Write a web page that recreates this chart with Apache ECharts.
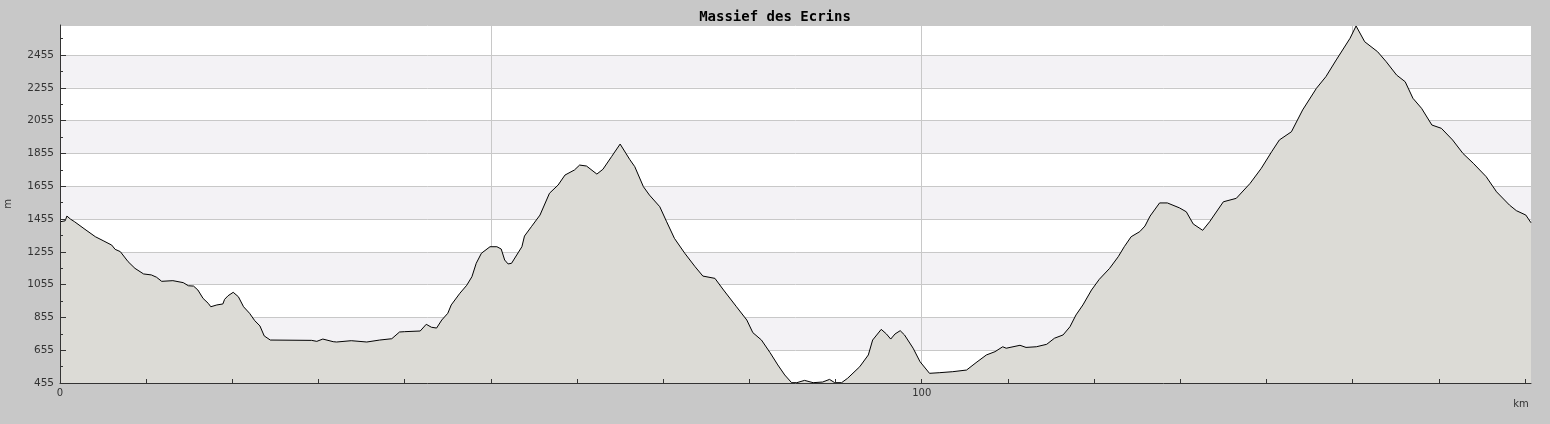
<!DOCTYPE html>
<html>
<head>
<meta charset="utf-8">
<title>Massief des Ecrins</title>
<script src="https://cdn.jsdelivr.net/npm/echarts@6/dist/echarts.min.js"></script>
<style>
  html, body { margin: 0; padding: 0; background: #c8c8c8; }
  #chart { width: 1550px; height: 424px; }
</style>
</head>
<body>
<div id="chart"></div>
<script>
// profiel: afstand (km) en hoogte (m)
var distanceKm = [
  0, 0.6, 0.8, 1.2, 1.7, 2.9, 4.1, 5.0, 6.0, 6.4, 7.0, 7.9, 8.7, 9.7, 10.6, 11.2, 11.8, 13.1, 14.3, 14.9,
  15.5, 16.0, 16.6, 17.2, 17.5, 18.2, 18.9, 19.1, 19.5, 20.1, 20.7, 21.3, 22.0, 22.6, 23.2, 23.7, 24.4, 29.2, 29.8, 30.5,
  31.7, 32.1, 33.8, 35.6, 37.1, 38.5, 39.4, 40.0, 41.8, 42.5, 43.1, 43.7, 44.3, 45.0, 45.4, 46.4, 47.2, 47.8, 48.3, 48.9,
  49.9, 50.7, 51.2, 51.6, 52.0, 52.4, 53.6, 53.9, 54.7, 55.7, 56.8, 57.8, 58.6, 58.8, 59.7, 60.3, 61.1, 62.3, 63.0, 64.0,
  65.0, 66.1, 66.7, 67.7, 68.4, 69.6, 70.4, 71.3, 72.5, 73.7, 74.6, 76.0, 77.0, 78.5, 79.7, 80.4, 81.4, 82.4, 83.3, 84.1,
  84.9, 85.5, 86.4, 87.4, 88.5, 89.3, 89.9, 90.7, 91.4, 92.8, 93.8, 94.3, 95.3, 95.9, 96.4, 96.9, 97.5, 98.0, 99.0, 99.8,
  100.9, 102.1, 103.6, 105.2, 106.3, 107.5, 108.5, 109.4, 109.8, 111.4, 112.1, 113.3, 114.5, 115.4, 116.4, 117.2, 117.9, 118.7, 119.7, 120.6,
  121.8, 122.8, 123.5, 124.3, 125.3, 125.9, 126.5, 127.6, 128.5, 129.9, 130.7, 131.5, 132.6, 133.4, 135.0, 136.5, 138.1, 139.4, 140.6, 141.5,
  142.9, 144.2, 145.8, 146.9, 148.1, 149.7, 150.4, 151.4, 152.9, 153.9, 155.1, 156.1, 157.0, 158.0, 159.2, 160.3, 161.6, 162.8, 164.0, 165.5,
  166.7, 168.2, 169.0, 170.1, 170.7
];
var elevationM = [
  1438, 1444, 1473, 1455, 1438, 1392, 1347, 1323, 1296, 1270, 1256, 1195, 1154, 1120, 1114, 1100, 1075, 1079, 1067, 1048,
  1046, 1022, 971, 941, 920, 931, 937, 965, 987, 1008, 981, 920, 880, 835, 803, 742, 717, 715, 709, 723,
  707, 705, 713, 705, 717, 725, 766, 768, 772, 813, 795, 790, 839, 880, 931, 1002, 1051, 1103, 1185, 1246,
  1286, 1286, 1272, 1205, 1181, 1185, 1286, 1351, 1408, 1479, 1612, 1662, 1723, 1713, 1754, 1784, 1778, 1729, 1758, 1835,
  1912, 1819, 1774, 1652, 1601, 1530, 1438, 1337, 1246, 1164, 1107, 1093, 1022, 920, 839, 762, 717, 640, 565, 504,
  457, 457, 471, 457, 461, 477, 457, 457, 484, 554, 626, 717, 782, 754, 723, 754, 774, 748, 667, 585,
  514, 518, 524, 534, 579, 626, 646, 676, 667, 685, 672, 676, 691, 728, 748, 798, 870, 931, 1022, 1087,
  1154, 1225, 1286, 1347, 1378, 1412, 1473, 1553, 1553, 1523, 1499, 1425, 1386, 1438, 1560, 1581, 1672, 1764, 1865, 1937,
  1987, 2120, 2252, 2323, 2425, 2557, 2632, 2536, 2475, 2414, 2333, 2292, 2191, 2130, 2028, 2008, 1937, 1855, 1795, 1713,
  1621, 1540, 1506, 1479, 1432
];

// as-indeling
var yLabelTicks = [455, 655, 855, 1055, 1255, 1455, 1655, 1855, 2055, 2255, 2455];
var yMinorTicks = [555, 755, 955, 1155, 1355, 1555, 1755, 1955, 2155, 2355, 2555];
var xTicks = [0, 10, 20, 30, 40, 50, 60, 70, 80, 90, 100, 110, 120, 130, 140, 150, 160, 170];
var xLabels = [0, 100];

var profile = distanceKm.map(function (d, i) { return [d, elevationM[i]]; });

var myChart = echarts.init(document.getElementById('chart'));

var plain = function (v) { return String(v); };
var tickColor = '#333';
var X_MAX = 170.7, Y_MIN = 455, Y_MAX = 2638;

// overlay-assen: alleen as-lijn en streepjes, boven het vlak getekend
function tickAxis(extra) {
    return Object.assign({
        type: 'value',
        z: 10,
        axisLine: { show: false },
        axisLabel: { show: false },
        splitLine: { show: false },
        splitArea: { show: false }
    }, extra);
}

var option = {
    backgroundColor: '#c8c8c8',
    animation: false,
    title: {
        text: 'Massief des Ecrins',
        left: 'center',
        top: 5,
        textStyle: {
            fontFamily: 'DejaVu Sans Mono',
            fontSize: 14,
            fontWeight: 'bold',
            color: '#000'
        }
    },
    grid: {
        left: 60,
        right: 19,
        top: 25,
        bottom: 41,
        containLabel: false,
        outerBoundsMode: 'none',
        show: true,
        backgroundColor: '#fff',
        borderWidth: 0
    },
    xAxis: [
        {
            type: 'value',
            min: 0,
            max: X_MAX,
            interval: 50,
            z: 0,
            name: 'km',
            nameLocation: 'end',
            nameGap: -10,
            nameTextStyle: {
                fontFamily: 'DejaVu Sans',
                fontSize: 10,
                color: '#333',
                align: 'center',
                verticalAlign: 'top',
                padding: [16, 0, 0, 0]
            },
            axisLine: { show: false },
            axisTick: { show: false },
            axisLabel: {
                customValues: xLabels,
                formatter: plain,
                margin: 5,
                fontFamily: 'DejaVu Sans',
                fontSize: 10,
                color: '#333'
            },
            splitLine: {
                show: true,
                showMinLine: false,
                showMaxLine: false,
                lineStyle: { color: '#c8c8c8', width: 1 }
            }
        },
        tickAxis({
            position: 'bottom',
            min: 0,
            max: X_MAX,
            interval: 10,
            axisLine: { show: true, lineStyle: { color: tickColor, width: 1 } },
            axisTick: {
                show: true,
                inside: true,
                length: 4,
                customValues: xTicks,
                lineStyle: { color: tickColor }
            }
        })
    ],
    yAxis: [
        {
            type: 'value',
            min: Y_MIN,
            max: Y_MAX,
            interval: 200,
            z: 0,
            name: 'm',
            nameLocation: 'middle',
            nameGap: 47,
            nameRotate: 90,
            nameTextStyle: { fontFamily: 'DejaVu Sans', fontSize: 10, color: '#333' },
            axisLine: { show: false },
            axisTick: { show: false },
            axisLabel: {
                customValues: yLabelTicks,
                formatter: plain,
                margin: 6,
                fontFamily: 'DejaVu Sans',
                fontSize: 10.5,
                color: '#333'
            },
            splitLine: {
                show: true,
                lineStyle: { color: '#c8c8c8', width: 1 }
            },
            splitArea: {
                show: true,
                areaStyle: { color: ['#ffffff', '#f3f2f5'] }
            }
        },
        tickAxis({
            position: 'left',
            min: Y_MIN,
            max: Y_MAX,
            interval: 200,
            axisLine: { show: true, lineStyle: { color: tickColor, width: 1 } },
            axisTick: {
                show: true,
                inside: true,
                length: 6,
                customValues: yLabelTicks,
                lineStyle: { color: tickColor }
            }
        }),
        tickAxis({
            position: 'left',
            min: Y_MIN,
            max: Y_MAX,
            interval: 100,
            axisTick: {
                show: true,
                inside: true,
                length: 3,
                customValues: yMinorTicks,
                lineStyle: { color: tickColor }
            }
        })
    ],
    series: [
        {
            name: 'hoogte',
            type: 'line',
            xAxisIndex: 0,
            yAxisIndex: 0,
            data: profile,
            showSymbol: false,
            symbol: 'none',
            lineStyle: { color: '#000', width: 1 },
            areaStyle: { color: '#dcdbd6', opacity: 1, origin: 'start' },
            z: 2
        }
    ]
};

myChart.setOption(option);
</script>
</body>
</html>
